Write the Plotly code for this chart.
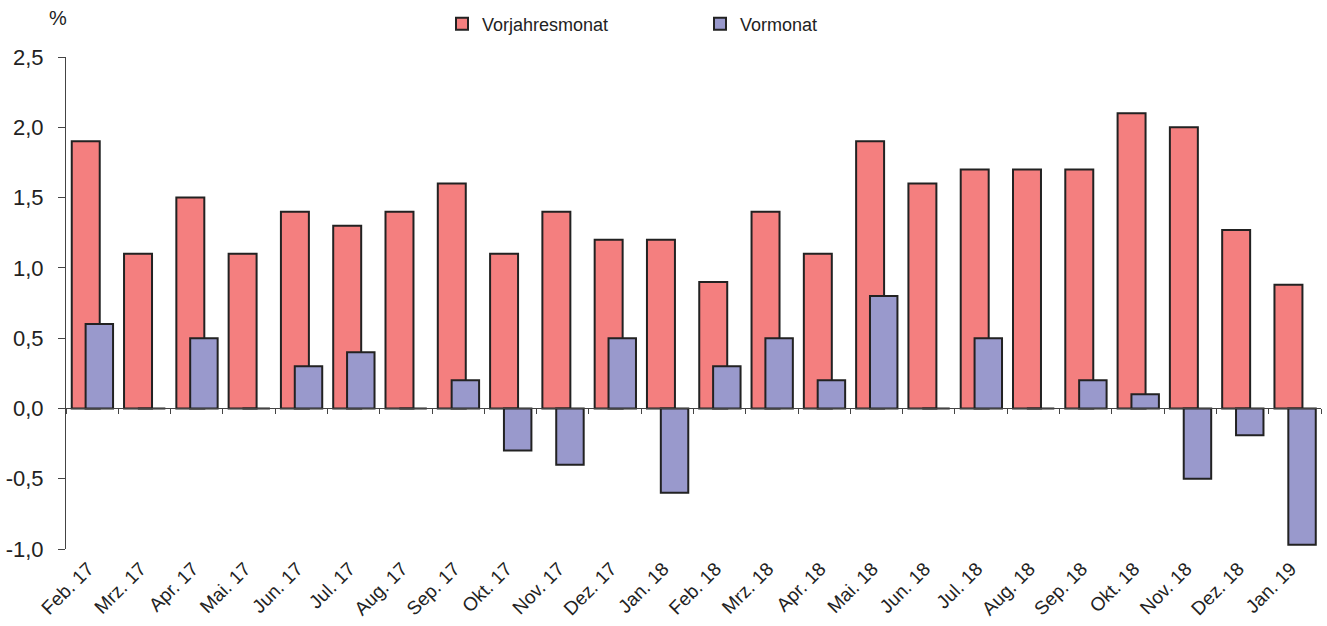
import plotly.graph_objects as go

categories = ["Feb. 17", "Mrz. 17", "Apr. 17", "Mai. 17", "Jun. 17", "Jul. 17",
              "Aug. 17", "Sep. 17", "Okt. 17", "Nov. 17", "Dez. 17", "Jan. 18",
              "Feb. 18", "Mrz. 18", "Apr. 18", "Mai. 18", "Jun. 18", "Jul. 18",
              "Aug. 18", "Sep. 18", "Okt. 18", "Nov. 18", "Dez. 18", "Jan. 19"]
vorjahresmonat = [1.9, 1.1, 1.5, 1.1, 1.4, 1.3, 1.4, 1.6, 1.1, 1.4, 1.2, 1.2,
                  0.9, 1.4, 1.1, 1.9, 1.6, 1.7, 1.7, 1.7, 2.1, 2.0, 1.27, 0.88]
vormonat = [0.6, 0.0, 0.5, 0.0, 0.3, 0.4, 0.0, 0.2, -0.3, -0.4, 0.5, -0.6,
            0.3, 0.5, 0.2, 0.8, 0.0, 0.5, 0.0, 0.2, 0.1, -0.5, -0.19, -0.97]
y_ticks = [-1.0, -0.5, 0.0, 0.5, 1.0, 1.5, 2.0, 2.5]
y_ticktext = [f"{v:.1f}".replace(".", ",") for v in y_ticks]

RED = "#F47F7F"
BLUE = "#9999CC"
EDGE = "#222222"
FONT = "Liberation Sans, Arial, sans-serif"

fig = go.Figure()
fig.add_trace(go.Bar(
    x=categories, y=vorjahresmonat, name="Vorjahresmonat",
    marker=dict(color=RED, line=dict(color=EDGE, width=2)),
    offset=-0.39, width=0.535, xaxis="x", yaxis="y",
))
fig.add_trace(go.Bar(
    x=categories, y=vormonat, name="Vormonat",
    marker=dict(color=BLUE, line=dict(color=EDGE, width=2)),
    offset=-0.125, width=0.525, xaxis="x2", yaxis="y",
))

ymin, ymax = -1.0, 2.5
zero_pos = (0 - ymin) / (ymax - ymin)

fig.update_layout(
    width=1327, height=626,
    margin=dict(l=66, r=6, t=57, b=77, autoexpand=False),
    paper_bgcolor="white", plot_bgcolor="white",
    separators=",.",
    barmode="overlay",
    font=dict(family=FONT, color="#222222"),
    showlegend=True,
    legend=dict(
        orientation="h", xref="container", x=442 / 1327, xanchor="left",
        yref="container", y=1 - 24 / 626, yanchor="middle",
        font=dict(size=18, family=FONT, color="#222222"),
        entrywidth=213, entrywidthmode="pixels",
        traceorder="normal", bgcolor="rgba(0,0,0,0)",
    ),
    xaxis=dict(
        type="category", range=[-0.5, len(categories) - 0.5], automargin=False,
        showline=False, ticks="", showgrid=False, zeroline=False,
        tickangle=-45, ticklabelstandoff=4, ticklabelshift=-4,
        tickfont=dict(size=19, family=FONT, color="#222222"),
    ),
    xaxis2=dict(
        type="category", range=[-0.5, len(categories) - 0.5], automargin=False,
        overlaying="x", anchor="free", position=zero_pos, side="bottom",
        showline=True, linecolor="#444444", linewidth=1,
        ticks="outside", tickson="boundaries", ticklen=5, tickcolor="#444444",
        showticklabels=False, showgrid=False, zeroline=False,
    ),
    yaxis=dict(
        range=[ymin, ymax], tickmode="array", tickvals=y_ticks, ticktext=y_ticktext,
        automargin=False,
        showline=True, linecolor="#444444", linewidth=1,
        ticks="outside", ticklen=7, tickcolor="#444444", ticklabelstandoff=10,
        showgrid=False, zeroline=False,
        tickfont=dict(size=22, family=FONT, color="#222222"),
    ),
    annotations=[dict(
        text="%", xref="paper", yref="paper", x=-0.006, y=(549 - 18) / 492,
        xanchor="center", yanchor="middle", showarrow=False,
        font=dict(size=20, family=FONT, color="#222222"),
    )],
)

fig.write_html("out.html", config={"displayModeBar": False},
               post_script="document.body.style.margin='0';")
